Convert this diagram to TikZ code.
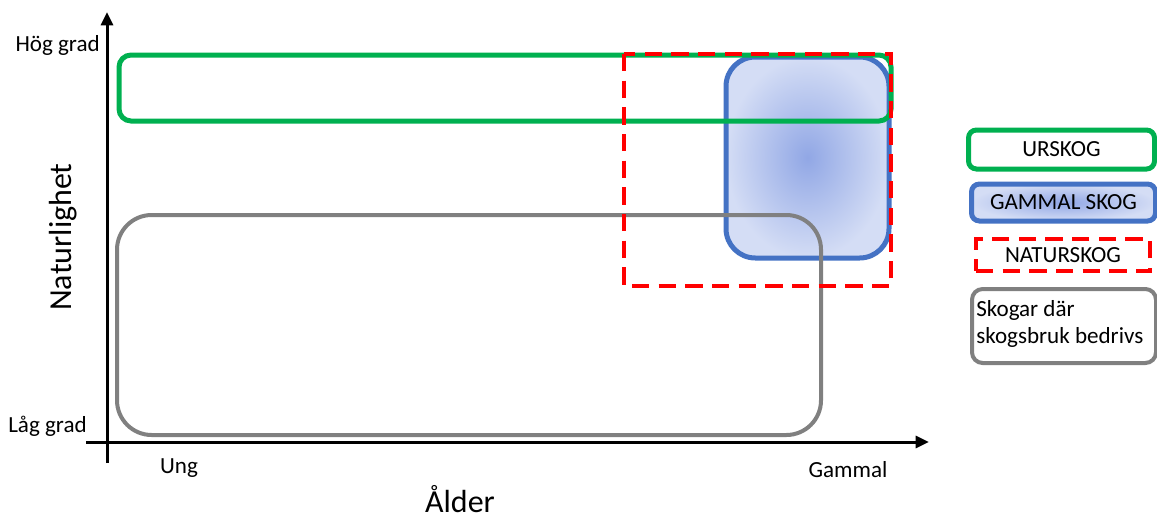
\documentclass[tikz,border=0pt]{standalone}
\usepackage{fontspec}
\setmainfont{Carlito}
\usetikzlibrary{arrows.meta}
\definecolor{ugreen}{RGB}{0,176,80}
\definecolor{ublue}{RGB}{68,114,196}
\definecolor{ured}{RGB}{255,0,0}
\definecolor{ugray}{RGB}{128,128,128}
\definecolor{bin}{RGB}{145,167,229}
\definecolor{bout}{RGB}{212,221,245}
\begin{document}
\begin{tikzpicture}[x=0.75pt,y=-0.75pt,
 axis/.style={line width=2.25pt,-{Triangle[length=10pt,width=9pt]}},
 lab/.style={font=\fontsize{17.3}{20}\selectfont, inner sep=0pt},
 big/.style={font=\fontsize{24}{28}\selectfont, inner sep=0pt},
 greenbox/.style={draw=ugreen,line width=3.75pt,rounded corners=9pt},
 bluebox/.style={draw=ublue,line width=3.75pt,inner color=bin,outer color=bout},
 redbox/.style={draw=ured,line width=3pt,dash pattern=on 13pt off 7pt},
 graybox/.style={draw=ugray,line width=3pt},
]
\useasboundingbox (0,0) rectangle (1157,518);
\coordinate (ybot) at (107,463);
\coordinate (ytop) at (107,12);
\coordinate (xl) at (86,442);
\coordinate (xr) at (929,442);
\draw[axis] (ybot) -- (ytop);
\draw[axis] (xl) -- (xr);

\draw[bluebox, rounded corners=22pt] (726,57) rectangle (889,258);
\draw[graybox, rounded corners=26pt] (117,215) rectangle (821,435);
\draw[greenbox] (119,55) rectangle (891,121);
\draw[redbox] (624,54) rectangle (891,286);

\node[lab,anchor=east] (hog) at (100,45) {Hög grad};
\node[lab,anchor=west] (lag) at (8,426) {Låg grad};
\node[lab] (ung) at (179,468) {Ung};
\node[lab] (gam) at (848,470) {Gammal};
\node[big] (alder) at (460,499) {Ålder};
\node[big,rotate=90] (nat) at (63,237) {Naturlighet};

\node[greenbox, rounded corners=6pt, minimum width=139.5pt, minimum height=29.25pt, lab] (l1) at (1061.5,149.5) {URSKOG};
\node[bluebox, rounded corners=6pt, minimum width=138pt, minimum height=27.75pt, lab] (l2) at (1063.5,202.5) {GAMMAL SKOG};
\node[redbox, minimum width=130.5pt, minimum height=24pt, lab] (l3) at (1063,255) {NATURSKOG};
\node[graybox, rounded corners=8pt, minimum width=138pt, minimum height=55.5pt] (l4) at (1064,326) {};
\node[lab, anchor=west, align=left] (l4t) at (976,324) {Skogar där\\skogsbruk bedrivs};
\end{tikzpicture}
\end{document}
